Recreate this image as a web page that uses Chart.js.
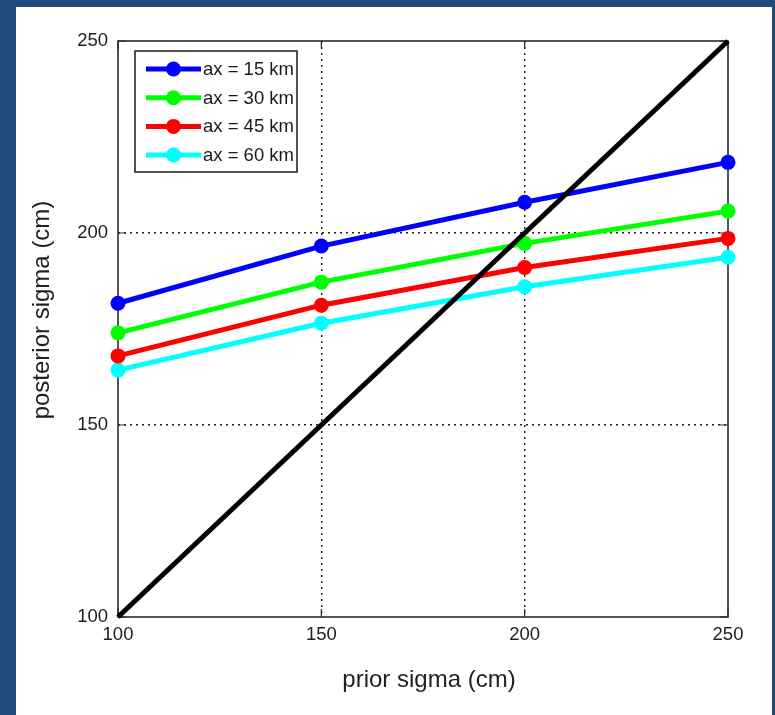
<!DOCTYPE html>
<html>
<head>
<meta charset="utf-8">
<script src="https://cdn.jsdelivr.net/npm/chart.js@4/dist/chart.umd.min.js"></script>
<style>
  html, body { margin: 0; padding: 0; background: #1f4a7c; width: 775px; height: 715px; overflow: hidden; }
  #wrap { position: absolute; left: 16px; top: 7px; width: 756px; height: 708px; background: #ffffff; }
  canvas { display: block; }
</style>
</head>
<body>
<div id="wrap"><canvas id="c" width="756" height="708"></canvas></div>
<script>
// ---- data ----
const priorSigma = [100, 150, 200, 250];
const seriesLabels = ['ax = 15 km', 'ax = 30 km', 'ax = 45 km', 'ax = 60 km'];
const ax15 = [181.7, 196.6, 208.0, 218.4];
const ax30 = [174.0, 187.2, 197.3, 205.7];
const ax45 = [168.0, 181.2, 191.0, 198.6];
const ax60 = [164.3, 176.5, 186.0, 193.7];
const diagX = [100, 250];
const diagY = [100, 250];
const xTicks = [100, 150, 200, 250];
const yTicks = [100, 150, 200, 250];
const xTitle = 'prior sigma (cm)';
const yTitle = 'posterior sigma (cm)';

const colors = ['#0000ff', '#00ff00', '#ff0000', '#00ffff'];
const seriesValues = [ax15, ax30, ax45, ax60];
const FONT = '"Liberation Sans", Arial, Helvetica, sans-serif';

const datasets = seriesValues.map((vals, i) => ({
  label: seriesLabels[i],
  data: priorSigma.map((x, j) => ({ x: x, y: vals[j] })),
  borderColor: colors[i],
  backgroundColor: colors[i],
  pointBackgroundColor: colors[i],
  pointBorderColor: colors[i],
  pointBorderWidth: 0,
  pointRadius: 7.5,
  borderWidth: 5,
  tension: 0,
  clip: false,
  order: i + 1
}));
datasets.push({
  label: 'diag',
  data: diagX.map((x, j) => ({ x: x, y: diagY[j] })),
  borderColor: '#000000',
  backgroundColor: '#000000',
  pointRadius: 0,
  borderWidth: 5,
  tension: 0,
  clip: false,
  order: 0
});

const decor = {
  id: 'decor',
  beforeDatasetsDraw(chart) {
    const { ctx, chartArea: a, scales: { x, y } } = chart;
    ctx.save();
    // inner ticks
    ctx.strokeStyle = '#2b2b2b';
    ctx.lineWidth = 1.2;
    const tl = 8;
    xTicks.forEach(v => {
      const px = x.getPixelForValue(v);
      ctx.beginPath();
      ctx.moveTo(px, a.bottom); ctx.lineTo(px, a.bottom - tl);
      ctx.moveTo(px, a.top); ctx.lineTo(px, a.top + tl);
      ctx.stroke();
    });
    yTicks.forEach(v => {
      const py = y.getPixelForValue(v);
      ctx.beginPath();
      ctx.moveTo(a.left, py); ctx.lineTo(a.left + tl, py);
      ctx.moveTo(a.right, py); ctx.lineTo(a.right - tl, py);
      ctx.stroke();
    });
    // box
    ctx.lineWidth = 1.6;
    ctx.strokeRect(a.left, a.top, a.right - a.left, a.bottom - a.top);
    ctx.restore();
  },
  afterDraw(chart) {
    const { ctx } = chart;
    ctx.save();
    ctx.fillStyle = '#222222';
    ctx.font = '24px ' + FONT;
    ctx.textAlign = 'center';
    ctx.textBaseline = 'middle';
    ctx.fillText(xTitle, 413, 673);
    ctx.translate(26, 303);
    ctx.rotate(-Math.PI / 2);
    ctx.fillText(yTitle, 0, 0);
    ctx.restore();

    // legend
    ctx.save();
    const bx = 119, by = 44, bw = 162, bh = 121;
    ctx.fillStyle = '#ffffff';
    ctx.fillRect(bx, by, bw, bh);
    ctx.strokeStyle = '#1a1a1a';
    ctx.lineWidth = 1.5;
    ctx.strokeRect(bx, by, bw, bh);
    const rowY = [62, 90.7, 119.4, 148];
    seriesLabels.forEach((lab, i) => {
      const yy = rowY[i];
      ctx.strokeStyle = colors[i];
      ctx.lineWidth = 5;
      ctx.beginPath();
      ctx.moveTo(130, yy); ctx.lineTo(185, yy);
      ctx.stroke();
      ctx.fillStyle = colors[i];
      ctx.beginPath();
      ctx.arc(157.5, yy, 7.5, 0, Math.PI * 2);
      ctx.fill();
      ctx.fillStyle = '#1a1a1a';
      ctx.font = '18.5px ' + FONT;
      ctx.textAlign = 'left';
      ctx.textBaseline = 'middle';
      ctx.fillText(lab, 187, yy + 1);
    });
    ctx.restore();
  }
};

const gridColor = ctx => (ctx.tick && (ctx.tick.value === 100 || ctx.tick.value === 250)) ? 'rgba(0,0,0,0)' : '#1e1e1e';

new Chart(document.getElementById('c'), {
  type: 'line',
  data: { datasets: datasets },
  options: {
    responsive: false,
    animation: false,
    events: [],
    layout: { padding: { left: 0, top: 34, right: 44, bottom: 0 } },
    plugins: { legend: { display: false }, tooltip: { enabled: false } },
    scales: {
      x: {
        type: 'linear',
        min: 100, max: 250,
        afterBuildTicks: s => { s.ticks = xTicks.map(v => ({ value: v })); },
        afterFit: s => { s.height = 98; },
        grid: { drawTicks: false, color: gridColor, lineWidth: 1.4 },
        border: { display: false, dash: [2, 4] },
        ticks: { color: '#222222', font: { family: FONT, size: 18.5 }, padding: 7, maxRotation: 0 }
      },
      y: {
        type: 'linear',
        min: 100, max: 250,
        afterBuildTicks: s => { s.ticks = yTicks.map(v => ({ value: v })); },
        afterFit: s => { s.width = 102; },
        grid: { drawTicks: false, color: gridColor, lineWidth: 1.4 },
        border: { display: false, dash: [2, 4] },
        ticks: { color: '#222222', font: { family: FONT, size: 18.5 }, padding: 10 }
      }
    }
  },
  plugins: [decor]
});
</script>
</body>
</html>
